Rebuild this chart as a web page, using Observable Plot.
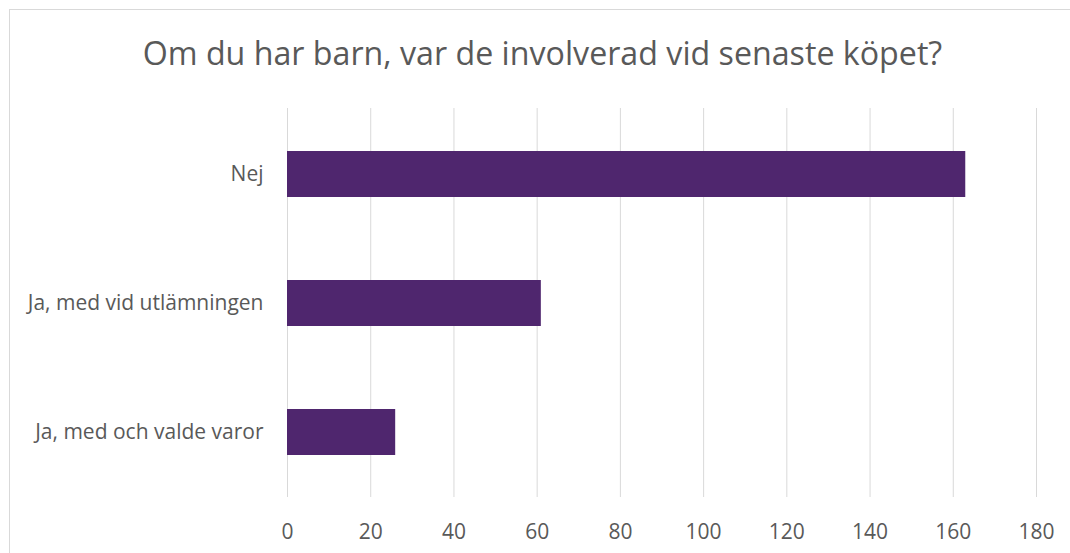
<!DOCTYPE html>
<html>
<head>
<meta charset="utf-8">
<script src="https://cdn.jsdelivr.net/npm/d3@7"></script>
<script src="https://cdn.jsdelivr.net/npm/@observablehq/plot@0.6"></script>
<style>
  html, body { margin: 0; padding: 0; background: #fff; overflow: hidden; }
  #wrap { width: 1070px; height: 553px; overflow: hidden; position: relative; font-family: "Open Sans", sans-serif; }
  #frame { position: absolute; left: 9px; top: 9px; width: 1120px; height: 600px; border: 1px solid #d9d9d9; box-sizing: border-box; pointer-events: none; }
  #title { height: 90px; box-sizing: border-box; padding-top: 31px; padding-left: 15px; line-height: 44px; font-size: 32.2px; color: #595959; text-align: center; white-space: nowrap; }
  #chart { position: relative; }
</style>
</head>
<body>
<div id="wrap">
<div id="frame"></div>
<div id="title">Om du har barn, var de involverad vid senaste köpet?</div>
<div id="chart"></div>
</div>
<script>
const categories = ["Nej", "Ja, med vid utlämningen", "Ja, med och valde varor"];
const values = [163, 61, 26];
const xTicks = [0, 20, 40, 60, 80, 100, 120, 140, 160, 180];

const data = categories.map((c, i) => ({category: c, value: values[i]}));

const chart = Plot.plot({
  width: 1070,
  height: 463,
  marginTop: 18,
  marginBottom: 56,
  marginLeft: 287,
  marginRight: 34,
  style: { fontFamily: "Open Sans, sans-serif", fontSize: "21px", color: "#595959", background: "transparent" },
  x: { domain: [0, 180], ticks: xTicks, label: null },
  y: { domain: categories, label: null, paddingInner: 0.646, paddingOuter: 0.323 },
  marks: [
    Plot.gridX(xTicks, { stroke: "#d9d9d9", strokeOpacity: 1, strokeWidth: 1 }),
    Plot.barX(data, { x: "value", y: "category", fill: "#4f266e" }),
    Plot.axisX({ ticks: xTicks, tickSize: 0, tickPadding: 27, fontSize: 21, fill: "#595959", label: null }),
    Plot.axisY({ tickSize: 0, tickPadding: 24, fontSize: 21, fill: "#595959", label: null })
  ]
});
document.getElementById("chart").appendChild(chart);
</script>
</body>
</html>
